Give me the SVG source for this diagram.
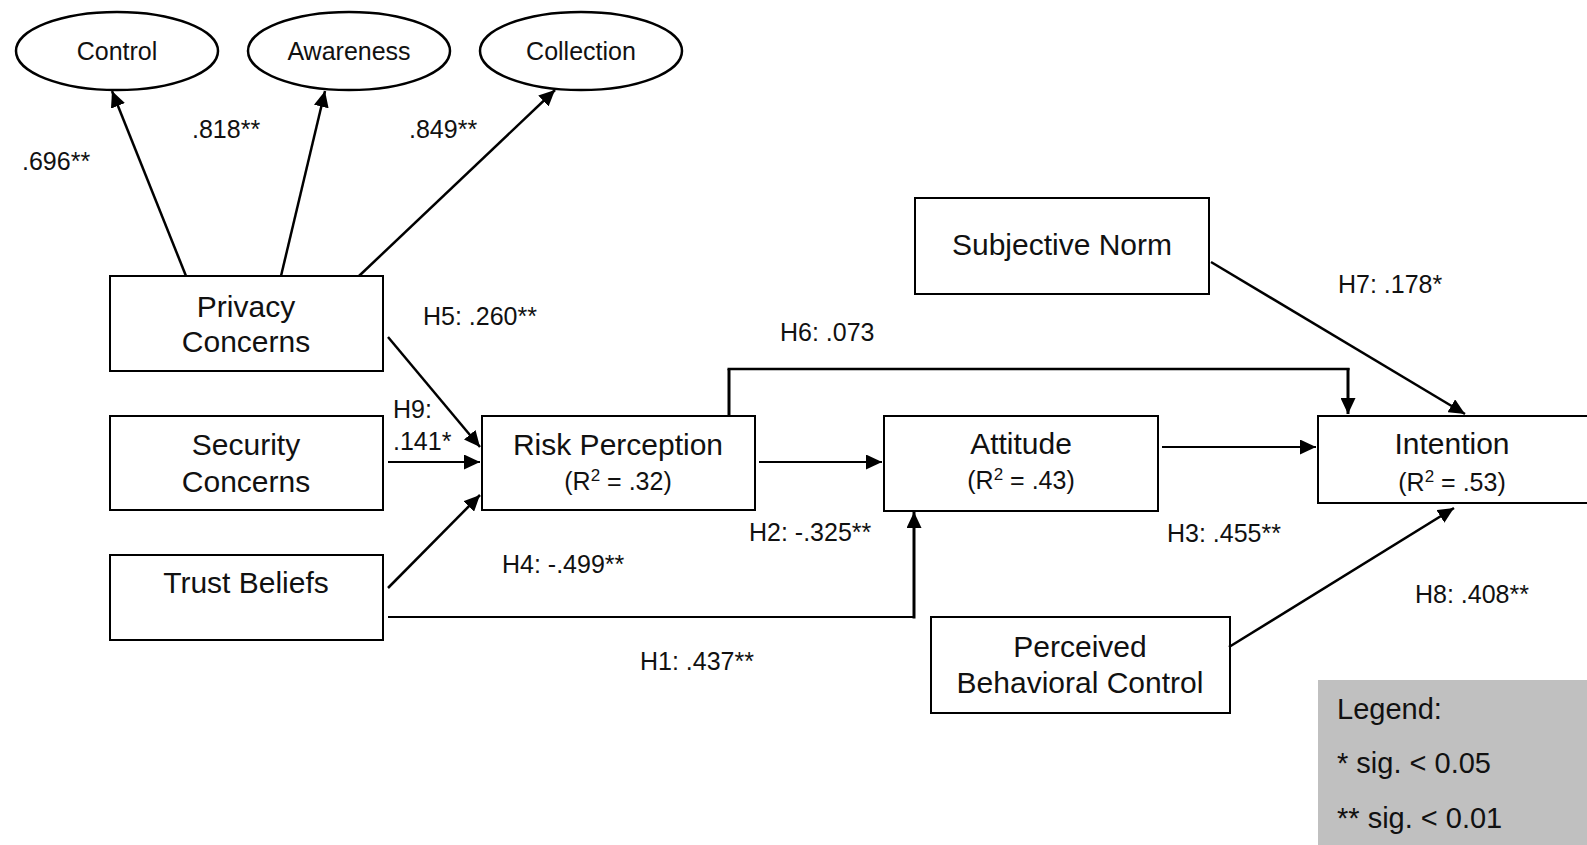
<svg xmlns="http://www.w3.org/2000/svg" width="1587" height="845" viewBox="0 0 1587 845">
  <style>
    .box { fill: #ffffff; stroke: #000000; stroke-width: 2; }
    .oval { fill: #ffffff; stroke: #000000; stroke-width: 2.5; }
    .node { font-family: "Liberation Sans", Arial, sans-serif; font-size: 30px; fill: #111111; text-anchor: middle; }
    .sub { font-family: "Liberation Sans", Arial, sans-serif; font-size: 25px; fill: #111111; text-anchor: middle; }
    .sup { font-size: 17px; }
    .lbl { font-family: "Liberation Sans", Arial, sans-serif; font-size: 25px; fill: #111111; }
    .leg { font-family: "Liberation Sans", Arial, sans-serif; font-size: 29px; fill: #111111; }
    .edge { fill: none; stroke: #000000; stroke-width: 2.5; }
    .thin { fill: none; stroke: #000000; stroke-width: 1.8; }
    .bold { fill: none; stroke: #000000; stroke-width: 3; }
  </style>
  <defs>
    <marker id="arrow" markerUnits="userSpaceOnUse" markerWidth="16" markerHeight="15" refX="16" refY="7.5" orient="auto">
      <path d="M0,0 L16,7.5 L0,15 z" fill="#000000"/>
    </marker>
  </defs>

  <rect width="1587" height="845" fill="#ffffff"/>

  <!-- first-order indicators of privacy concerns -->
  <g id="control">
    <ellipse class="oval" cx="117" cy="51" rx="101" ry="39"/>
    <text class="sub" x="117" y="60">Control</text>
  </g>
  <g id="awareness">
    <ellipse class="oval" cx="349" cy="51" rx="101" ry="39"/>
    <text class="sub" x="349" y="60">Awareness</text>
  </g>
  <g id="collection">
    <ellipse class="oval" cx="581" cy="51" rx="101" ry="39"/>
    <text class="sub" x="581" y="60">Collection</text>
  </g>

  <!-- constructs -->
  <g id="privacy-concerns">
    <rect class="box" x="110" y="276" width="273" height="95"/>
    <text class="node" x="246" y="317">Privacy</text>
    <text class="node" x="246" y="352">Concerns</text>
  </g>
  <g id="security-concerns">
    <rect class="box" x="110" y="416" width="273" height="94"/>
    <text class="node" x="246" y="455">Security</text>
    <text class="node" x="246" y="492">Concerns</text>
  </g>
  <g id="trust-beliefs">
    <rect class="box" x="110" y="555" width="273" height="85"/>
    <text class="node" x="246" y="593">Trust Beliefs</text>
  </g>
  <g id="risk-perception">
    <rect class="box" x="482" y="416" width="273" height="94"/>
    <text class="node" x="618" y="455">Risk Perception</text>
    <text class="sub" x="618" y="490">(R<tspan class="sup" dy="-9">2</tspan><tspan dy="9"> = .32)</tspan></text>
  </g>
  <g id="attitude">
    <rect class="box" x="884" y="416" width="274" height="95"/>
    <text class="node" x="1021" y="454">Attitude</text>
    <text class="sub" x="1021" y="489">(R<tspan class="sup" dy="-9">2</tspan><tspan dy="9"> = .43)</tspan></text>
  </g>
  <g id="intention">
    <rect class="box" x="1318" y="416" width="274" height="87"/>
    <text class="node" x="1452" y="454">Intention</text>
    <text class="sub" x="1452" y="491">(R<tspan class="sup" dy="-9">2</tspan><tspan dy="9"> = .53)</tspan></text>
  </g>
  <g id="subjective-norm">
    <rect class="box" x="915" y="198" width="294" height="96"/>
    <text class="node" x="1062" y="255">Subjective Norm</text>
  </g>
  <g id="perceived-behavioral-control">
    <rect class="box" x="931" y="617" width="299" height="96"/>
    <text class="node" x="1080" y="657">Perceived</text>
    <text class="node" x="1080" y="693">Behavioral Control</text>
  </g>

  <!-- paths -->
  <g id="connectors">
    <line class="edge" x1="186" y1="276" x2="112" y2="91" marker-end="url(#arrow)"/>
    <line class="edge" x1="281" y1="276" x2="325" y2="91" marker-end="url(#arrow)"/>
    <line class="edge" x1="359" y1="276" x2="555" y2="90" marker-end="url(#arrow)"/>

    <line class="edge" x1="388" y1="337" x2="480" y2="447" marker-end="url(#arrow)"/>
    <line class="thin" x1="388" y1="462" x2="480" y2="462" marker-end="url(#arrow)"/>
    <line class="edge" x1="388" y1="588" x2="480" y2="495" marker-end="url(#arrow)"/>

    <polyline class="thin" points="388,617 914,617"/>
    <line class="bold" x1="914" y1="618.5" x2="914" y2="512" marker-end="url(#arrow)"/>

    <line class="thin" x1="759" y1="462" x2="882" y2="462" marker-end="url(#arrow)"/>

    <line class="bold" x1="729" y1="415" x2="729" y2="369"/>
    <line class="edge" x1="727.5" y1="369" x2="1349.5" y2="369"/>
    <line class="bold" x1="1348" y1="368" x2="1348" y2="414" marker-end="url(#arrow)"/>

    <line class="thin" x1="1162" y1="447" x2="1316" y2="447" marker-end="url(#arrow)"/>
    <line class="edge" x1="1211" y1="262" x2="1465" y2="414" marker-end="url(#arrow)"/>
    <line class="edge" x1="1229" y1="647" x2="1454" y2="508" marker-end="url(#arrow)"/>
  </g>

  <!-- path coefficients -->
  <g id="labels">
    <text class="lbl" x="22" y="170">.696**</text>
    <text class="lbl" x="192" y="138">.818**</text>
    <text class="lbl" x="409" y="138">.849**</text>
    <text class="lbl" x="423" y="325">H5: .260**</text>
    <text class="lbl" x="393" y="418">H9:</text>
    <text class="lbl" x="393" y="450">.141*</text>
    <text class="lbl" x="502" y="573">H4: -.499**</text>
    <text class="lbl" x="640" y="670">H1: .437**</text>
    <text class="lbl" x="749" y="541">H2: -.325**</text>
    <text class="lbl" x="780" y="341">H6: .073</text>
    <text class="lbl" x="1167" y="542">H3: .455**</text>
    <text class="lbl" x="1338" y="293">H7: .178*</text>
    <text class="lbl" x="1415" y="603">H8: .408**</text>
  </g>

  <!-- significance key -->
  <g id="legend">
    <rect x="1318" y="680" width="275" height="170" fill="#c0c0c0"/>
    <text class="leg" x="1337" y="719">Legend:</text>
    <text class="leg" x="1337" y="773">* sig. &lt; 0.05</text>
    <text class="leg" x="1337" y="828">** sig. &lt; 0.01</text>
  </g>
</svg>
